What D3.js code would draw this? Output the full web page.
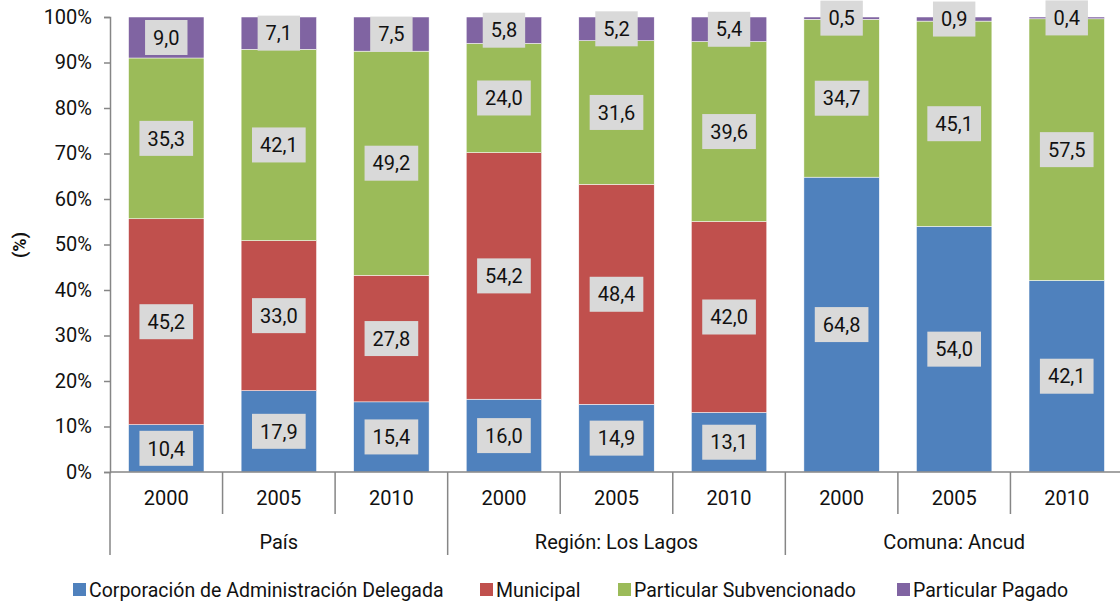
<!DOCTYPE html>
<html>
<head>
<meta charset="utf-8">
<script src="https://cdn.jsdelivr.net/npm/d3@7"></script>
<style>
  body { margin: 0; background: #fff; }
  text { font-family: Roboto, "Liberation Sans", sans-serif; fill: #111; }
</style>
</head>
<body>
<script>
// chart data
var groups = ["País", "Región: Los Lagos", "Comuna: Ancud"];
var years = ["2000", "2005", "2010"];
var series = ["Corporación de Administración Delegada", "Municipal", "Particular Subvencionado", "Particular Pagado"];
var colors = ["#4f81bd", "#c0504d", "#9bbb59", "#8064a2"];
var corporacion = [10.4, 17.9, 15.4, 16.0, 14.9, 13.1, 64.8, 54.0, 42.1];
var municipal = [45.2, 33.0, 27.8, 54.2, 48.4, 42.0, 0, 0, 0];
var subvencionado = [35.3, 42.1, 49.2, 24.0, 31.6, 39.6, 34.7, 45.1, 57.5];
var pagado = [9.0, 7.1, 7.5, 5.8, 5.2, 5.4, 0.5, 0.9, 0.4];
var yTicks = [0, 0.1, 0.2, 0.3, 0.4, 0.5, 0.6, 0.7, 0.8, 0.9, 1];

var w = 1120, h = 602;
var plotLeft = 110, plotRight = 1123, plotTop = 17, plotBottom = 472;
var fs = "20px";

// build rows
var rows = [];
groups.forEach(function (g, gi) {
    years.forEach(function (yr, yi) {
        var i = gi * 3 + yi;
        rows.push({
            key: g + "|" + yr, group: g, year: yr,
            s0: corporacion[i], s1: municipal[i], s2: subvencionado[i], s3: pagado[i]
        });
    });
});
var keys = ["s0", "s1", "s2", "s3"];
var stacked = d3.stack().keys(keys).offset(d3.stackOffsetExpand)(rows);

var svg = d3.select("body").append("svg")
    .attr("width", w)
    .attr("height", h);

var x = d3.scaleBand()
    .domain(rows.map(function (d) { return d.key; }))
    .range([plotLeft, plotRight])
    .paddingInner(0.33)
    .paddingOuter(0.165);
var step = x.step();
var y = d3.scaleLinear().domain([0, 1]).range([plotBottom, plotTop]);

// y axis
var yAxis = svg.append("g")
    .attr("transform", "translate(" + plotLeft + ",0)")
    .call(d3.axisLeft(y).tickValues(yTicks).tickFormat(d3.format(".0%")).tickSize(6).tickPadding(12));
yAxis.select(".domain").attr("stroke", "#868686").attr("stroke-width", 1.5);
yAxis.selectAll(".tick line").attr("stroke", "#868686").attr("stroke-width", 1.5);
yAxis.selectAll(".tick text").attr("font-size", fs).attr("fill", "#111")
    .attr("font-family", null);

svg.append("text")
    .attr("transform", "translate(26,245) rotate(-90)")
    .attr("text-anchor", "middle")
    .attr("font-size", "18px")
    .attr("font-weight", "bold")
    .text("(%)");

// bars
var layer = svg.append("g").selectAll("g")
    .data(stacked)
    .enter().append("g")
    .attr("fill", function (d, i) { return colors[i]; });

layer.selectAll("rect")
    .data(function (d) { return d; })
    .enter().append("rect")
    .attr("x", function (d) { return x(d.data.key); })
    .attr("width", x.bandwidth())
    .attr("y", function (d) { return y(d[1]); })
    .attr("height", function (d) { return y(d[0]) - y(d[1]); })
    .attr("stroke", "#fff")
    .attr("stroke-width", 0.5);

// data labels
var labels = svg.append("g");
stacked.forEach(function (s, si) {
    s.forEach(function (d) {
        var v = d.data[keys[si]];
        if (!v) return;
        var cx = x(d.data.key) + x.bandwidth() / 2;
        var cy = (y(d[0]) + y(d[1])) / 2;
        var g = labels.append("g");
        var t = g.append("text")
            .attr("x", cx)
            .attr("y", cy)
            .attr("dy", "0.36em")
            .attr("text-anchor", "middle")
            .attr("font-size", fs)
            .text(d3.format(".1f")(v).replace(".", ","));
        var tw = t.node().getBBox().width;
        g.insert("rect", "text")
            .attr("x", cx - tw / 2 - 8)
            .attr("y", cy - 17.5)
            .attr("width", tw + 16)
            .attr("height", 35)
            .attr("fill", "#d9d9d9");
    });
});

// x axis
svg.append("line")
    .attr("x1", plotLeft).attr("x2", plotRight)
    .attr("y1", plotBottom).attr("y2", plotBottom)
    .attr("stroke", "#868686").attr("stroke-width", 1.5);

rows.forEach(function (d, i) {
    var xl = plotLeft + i * step;
    var long = i % 3 === 0;
    svg.append("line")
        .attr("x1", xl).attr("x2", xl)
        .attr("y1", plotBottom).attr("y2", long ? 555 : 514)
        .attr("stroke", "#868686").attr("stroke-width", 1.5);
    svg.append("text")
        .attr("x", x(d.key) + x.bandwidth() / 2)
        .attr("y", 505)
        .attr("text-anchor", "middle")
        .attr("font-size", fs)
        .text(d.year);
});
svg.append("line")
    .attr("x1", plotRight - 0.5).attr("x2", plotRight - 0.5)
    .attr("y1", plotBottom).attr("y2", 555)
    .attr("stroke", "#868686").attr("stroke-width", 1.5);

groups.forEach(function (g, gi) {
    svg.append("text")
        .attr("x", plotLeft + (gi * 3 + 1.5) * step)
        .attr("y", 549)
        .attr("text-anchor", "middle")
        .attr("font-size", fs)
        .text(g);
});

// legend
var legendX = [73, 480, 618, 897];
var legend = svg.append("g");
series.forEach(function (s, i) {
    legend.append("rect")
        .attr("x", legendX[i])
        .attr("y", 583)
        .attr("width", 13)
        .attr("height", 13)
        .attr("fill", colors[i]);
    legend.append("text")
        .attr("x", legendX[i] + 16)
        .attr("y", 597)
        .attr("font-size", "19.5px")
        .text(s);
});
</script>
</body>
</html>
